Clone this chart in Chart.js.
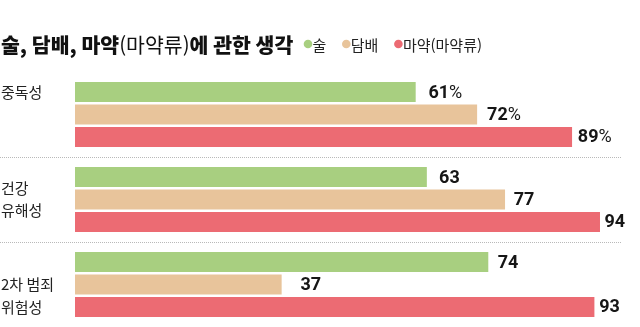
<!DOCTYPE html>
<html lang="ko">
<head>
<meta charset="UTF-8">
<title>술, 담배, 마약(마약류)에 관한 생각</title>
<script src="https://cdn.jsdelivr.net/npm/chart.js@4.4.1/dist/chart.umd.min.js"></script>
<style>
  html, body { margin: 0; padding: 0; background: #fff; }
  canvas { display: block; }
</style>
</head>
<body>
<canvas id="chart" width="640" height="327"></canvas>
<script>
// 항목별 응답 비율 (%)
const categories = [['중독성'], ['건강', '유해성'], ['2차 범죄', '위험성']];
const seriesNames = ['술', '담배', '마약(마약류)'];
const alcohol = [61, 63, 74];
const tobacco = [72, 77, 37];
const drugs = [89, 94, 93];
const valueSuffix = ['%', '', ''];

const titleParts = [['술, 담배, 마약', 900], ['(마약류)', 400], ['에 관한 생각', 900]];

const colors = ['#a8cf80', '#e8c49b', '#ec6b73'];
const KR = '"Noto Sans CJK KR", "Noto Sans", sans-serif';
const NUM = 'Roboto, "Liberation Sans", sans-serif';

// 제목 + 범례 (한 줄에 나란히)
const headerPlugin = {
  id: 'header',
  afterDraw(chart) {
    const ctx = chart.ctx;
    ctx.save();
    ctx.textBaseline = 'middle';
    ctx.fillStyle = '#111';
    let x = 1;
    titleParts.forEach(([txt, w]) => {
      ctx.font = w + ' 20.5px ' + KR;
      ctx.fillText(txt, x, 45);
      x += ctx.measureText(txt).width;
    });

    x = Math.max(x + 6, 304);
    ctx.font = '400 15px ' + KR;
    seriesNames.forEach((name, i) => {
      ctx.fillStyle = colors[i];
      ctx.beginPath();
      ctx.arc(x + 4, 44, 4.3, 0, Math.PI * 2);
      ctx.fill();
      ctx.fillStyle = '#222';
      ctx.fillText(name, x + 8.5, 45);
      x += 8.5 + ctx.measureText(name).width + 16;
    });
    ctx.restore();
  }
};

// 점선 구분선, 왼쪽 항목명, 막대 끝 수치
const annotatePlugin = {
  id: 'annotate',
  afterDatasetsDraw(chart) {
    const ctx = chart.ctx;
    const xs = chart.scales.x;
    const ys = chart.scales.y;
    const band = ys.getPixelForValue(1) - ys.getPixelForValue(0);
    const slot = band * chart.options.datasets.bar.categoryPercentage / 3;
    const labelStart = [-1, -0.5, 0];   // 첫 줄이 놓이는 막대 위치

    ctx.save();
    ctx.strokeStyle = '#b9b9b9';
    ctx.lineWidth = 1;
    ctx.setLineDash([1, 1]);
    for (let i = 0; i < categories.length - 1; i++) {
      const y = Math.round((ys.getPixelForValue(i) + ys.getPixelForValue(i + 1)) / 2) + 0.5;
      ctx.beginPath();
      ctx.moveTo(0, y);
      ctx.lineTo(622, y);
      ctx.stroke();
    }
    ctx.setLineDash([]);

    ctx.textBaseline = 'middle';
    ctx.fillStyle = '#222';
    ctx.font = '400 15px ' + KR;
    categories.forEach((lines, i) => {
      const c = ys.getPixelForValue(i);
      lines.forEach((ln, k) => {
        ctx.fillText(ln, 1, c + (labelStart[i] + k) * slot);
      });
    });

    ctx.fillStyle = '#161616';
    chart.data.datasets.forEach((ds, d) => {
      const meta = chart.getDatasetMeta(d);
      meta.data.forEach((bar, i) => {
        const v = ds.data[i];
        // 짧은 막대일수록 수치를 조금 더 띄워 놓는다
        const x = xs.getPixelForValue(v) + 28 - 0.25 * v;
        ctx.font = '700 18px ' + NUM;
        const num = String(v);
        ctx.fillText(num, x, bar.y + 1);
        if (valueSuffix[i]) {
          const w = ctx.measureText(num).width;
          ctx.font = '400 18px ' + NUM;
          ctx.fillText(valueSuffix[i], x + w, bar.y + 1);
        }
      });
    });
    ctx.restore();
  }
};

new Chart(document.getElementById('chart'), {
  type: 'bar',
  data: {
    labels: categories.map(l => l.join(' ')),
    datasets: [
      { label: seriesNames[0], data: alcohol, backgroundColor: colors[0] },
      { label: seriesNames[1], data: tobacco, backgroundColor: colors[1] },
      { label: seriesNames[2], data: drugs, backgroundColor: colors[2] }
    ]
  },
  options: {
    indexAxis: 'y',
    responsive: false,
    animation: false,
    layout: { padding: { top: 72, left: 75, right: 6.5, bottom: 0 } },
    datasets: {
      bar: { categoryPercentage: 0.794, barPercentage: 0.89, borderWidth: 0 }
    },
    plugins: {
      legend: { display: false },
      title: { display: false },
      tooltip: { enabled: false }
    },
    scales: {
      x: { display: false, min: 0, max: 100 },
      y: { display: false }
    }
  },
  plugins: [headerPlugin, annotatePlugin]
});
</script>
</body>
</html>
